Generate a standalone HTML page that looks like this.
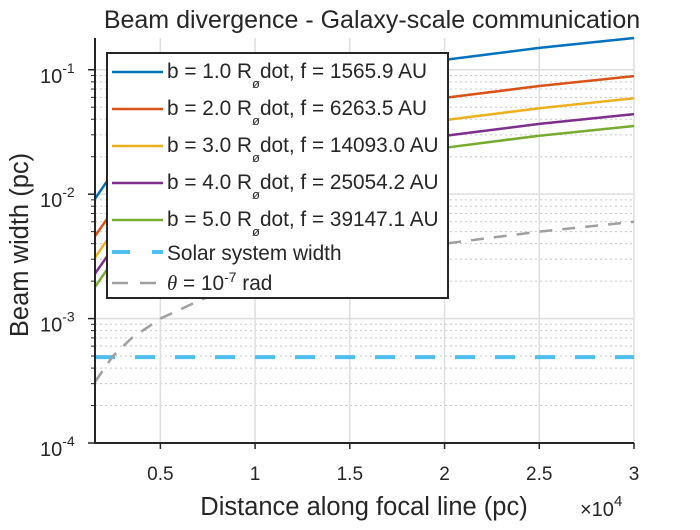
<!DOCTYPE html>
<html><head><meta charset="utf-8"><style>
body{margin:0;background:#fff;font-family:"Liberation Sans",sans-serif}
svg text{font-family:"Liberation Sans",sans-serif;fill:#262626}
</style></head><body>
<svg id="c" width="700" height="525" xmlns="http://www.w3.org/2000/svg">
<rect width="700" height="525" fill="#fff"/>
<g id="grid"></g><g id="series"></g><g id="axes"></g><g id="legend"></g>
</svg>
<script>
const distances=[1550,2500,3500,5000,7500,10000,15000,20000,25000,30000];
const seriesB1=[0.0092,0.0149,0.0209,0.030,0.045,0.060,0.090,0.12,0.15,0.18];
const seriesB2=[0.0046,0.0074,0.0104,0.0148,0.0223,0.0297,0.0445,0.0594,0.074,0.089];
const seriesB3=[0.0031,0.0050,0.0069,0.0099,0.0148,0.0197,0.0295,0.0394,0.049,0.059];
const seriesB4=[0.0023,0.0037,0.0052,0.0074,0.011,0.0147,0.022,0.0294,0.0367,0.044];
const seriesB5=[0.0018,0.0029,0.0041,0.0059,0.0088,0.0118,0.0177,0.0236,0.0295,0.0353];
const seriesTheta=[0.00031,0.0005,0.0007,0.001,0.0015,0.002,0.003,0.004,0.005,0.006];
const solarWidth=0.00049;
const xTicks=[5000,10000,15000,20000,25000,30000];
const xTickLabels=["0.5","1","1.5","2","2.5","3"];
const yTickExps=[-4,-3,-2,-1];
const legendLabels=["b = 1.0 R","b = 2.0 R","b = 3.0 R","b = 4.0 R","b = 5.0 R"];
const legendF=["1565.9","6263.5","14093.0","25054.2","39147.1"];

const L=95,R=634,T=38,B=443,xmin=1550,xmax=30000,ymin=-4,ymax=Math.log10(0.18);
const X=v=>L+(v-xmin)/(xmax-xmin)*(R-L);
const Y=v=>B-(Math.log10(v)-ymin)/(ymax-ymin)*(B-T);
const NS="http://www.w3.org/2000/svg";
function mk(p,tag,a){const e=document.createElementNS(NS,tag);for(const k in a)e.setAttribute(k,a[k]);p.appendChild(e);return e;}
const grid=document.getElementById('grid'),ser=document.getElementById('series'),ax=document.getElementById('axes'),lg=document.getElementById('legend');

for(const e of yTickExps){
  const y=Y(Math.pow(10,e));
  const g=mk(grid,'line',{x1:L,x2:R,y1:y,y2:y,stroke:'#dedede','stroke-width':1.5});
  
  
  for(let m=2;m<=9;m++){
    const v=m*Math.pow(10,e); if(Math.log10(v)>ymax)continue;
    const yy=Y(v);
    const gm=mk(grid,'line',{x1:L,x2:R,y1:yy,y2:yy,stroke:'#c8c8c8','stroke-width':1,'stroke-dasharray':'2,3'});
    
    
    const mt=mk(ax,'line',{x1:L-4,x2:L,y1:yy,y2:yy,stroke:'#262626'});
    
    
  }
}
xTicks.forEach((v,i)=>{
  const x=X(v);
  const g=mk(grid,'line',{x1:x,x2:x,y1:T,y2:B,stroke:'#dedede','stroke-width':1.5});
  
  
  const t=mk(ax,'line',{x1:x,x2:x,y1:B,y2:B+6,stroke:'#262626','stroke-width':1.5});
  
  
  const lb=mk(ax,'text',{x:x,y:B+37,'text-anchor':'middle','font-size':19});
  lb.textContent=xTickLabels[i];
  
  
});
yTickExps.forEach(e=>{
  const y=Y(Math.pow(10,e));
  const t=mk(ax,'line',{x1:L-7,x2:L,y1:y,y2:y,stroke:'#262626','stroke-width':1.5});
  
  
  const lb=mk(ax,'text',{x:40,y:y+13,'font-size':20});
  lb.innerHTML='10<tspan dy="-10" font-size="14">'+e+'</tspan>';
  
  
});

const colors=['#0072bd','#d95319','#edb120','#7e2f8e','#77ac30'];
const allSeries=[seriesB1,seriesB2,seriesB3,seriesB4,seriesB5];
allSeries.forEach((s,i)=>{
  const d=s.map((v,j)=>(j?'L':'M')+X(distances[j]).toFixed(1)+','+Y(v).toFixed(1)).join('');
  const p=mk(ser,'path',{d:d,stroke:colors[i],'stroke-width':2.5,fill:'none'});
  
  
});
const sl=mk(ser,'line',{x1:L,x2:R,y1:Y(solarWidth),y2:Y(solarWidth),stroke:'#4dbeee','stroke-width':4,'stroke-dasharray':'20,20'});


const td=seriesTheta.map((v,j)=>(j?'L':'M')+X(distances[j]).toFixed(1)+','+Y(v).toFixed(1)).join('');
const tl=mk(ser,'path',{d:td,stroke:'#a0a0a0','stroke-width':2.5,fill:'none','stroke-dasharray':'13,10'});



const box=mk(ax,'path',{d:`M${L},${T}V${B}H${R}`,stroke:'#262626','stroke-width':2,fill:'none'});



const lbg=mk(lg,'rect',{x:107,y:53,width:341,height:245,fill:'#fff',stroke:'#262626','stroke-width':2});


const rows=[72,109,146,183,220,252,283];
legendLabels.forEach((t,i)=>{
  const y=rows[i];
  const ln=mk(lg,'line',{x1:112,x2:163,y1:y,y2:y,stroke:colors[i],'stroke-width':2.5});
  
  
  const tx=mk(lg,'text',{x:167,y:y+6,'font-size':20.8});
  tx.innerHTML=t+'<tspan dy="10" font-size="13">ø</tspan><tspan dy="-10">dot, f = '+legendF[i]+' AU</tspan>';
  
  
});
const s1=mk(lg,'line',{x1:112,x2:163,y1:rows[5],y2:rows[5],stroke:'#4dbeee','stroke-width':4,'stroke-dasharray':'18,22'});


const t1=mk(lg,'text',{x:167,y:rows[5]+8,'font-size':20.8});t1.textContent='Solar system width';


const s2=mk(lg,'line',{x1:112,x2:163,y1:rows[6],y2:rows[6],stroke:'#a0a0a0','stroke-width':2.5,'stroke-dasharray':'16,12'});


const t2=mk(lg,'text',{x:167,y:rows[6]+7,'font-size':20.8});
t2.innerHTML='<tspan font-family="Liberation Serif" font-style="italic">θ</tspan> = 10<tspan dy="-8" font-size="14">-7</tspan><tspan dy="8"> rad</tspan>';



const ti=mk(ax,'text',{x:372,y:28,'text-anchor':'middle','font-size':25});ti.textContent='Beam divergence - Galaxy-scale communication';


const xl=mk(ax,'text',{x:364,y:515,'text-anchor':'middle','font-size':25.5});xl.textContent='Distance along focal line (pc)';


const xe=mk(ax,'text',{x:580,y:516,'font-size':20});xe.innerHTML='×10<tspan dy="-10" font-size="15">4</tspan>';


const yl=mk(ax,'text',{x:0,y:0,'text-anchor':'middle','font-size':25.5,transform:'translate(28,245) rotate(-90)'});yl.textContent='Beam width (pc)';


</script>
</body></html>
